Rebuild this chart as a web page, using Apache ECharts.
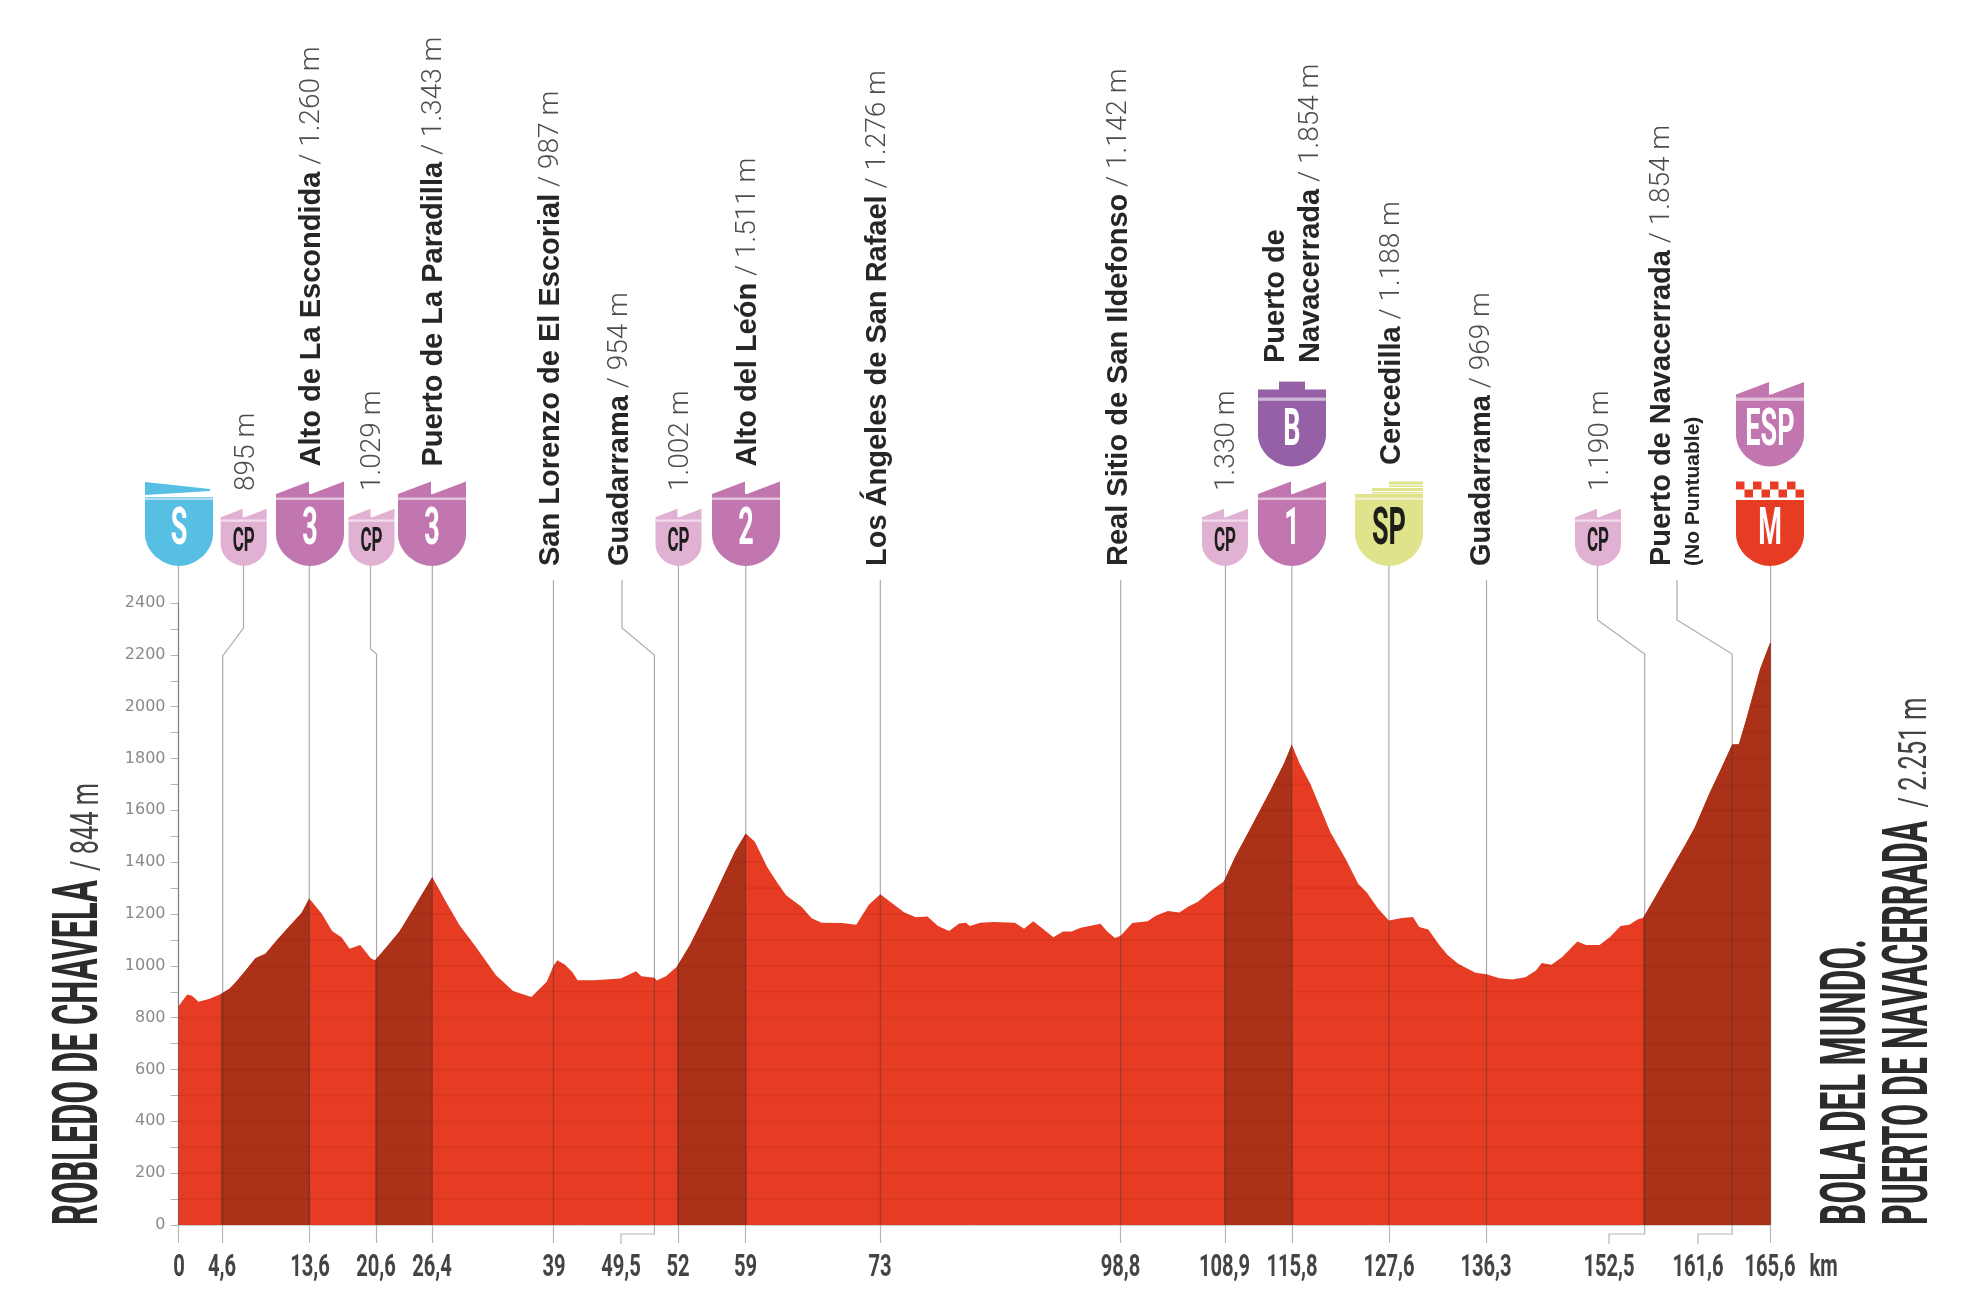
<!DOCTYPE html>
<html>
<head>
<meta charset="utf-8">
<title>Perfil de etapa</title>
<style>html,body{margin:0;background:#fff}#chart{width:1980px;height:1300px}</style>
<script src="https://cdn.jsdelivr.net/npm/echarts@6/dist/echarts.min.js"></script>
</head>
<body>
<div id="chart"></div>
<script>
// -- data -----------------------------------------------------------------
const profileKm = [0,0.9,1.4,2.1,3.25,4.4,4.6,5.3,6,7,8,9.05,10.2,11.6,12.8,13.6,13.7,14.9,16,16.95,17.8,18.9,20,20.45,20.6,21.6,23,24.6,26.4,27.8,29.25,30.9,33,34.8,36.7,38.3,39,39.4,40.2,41,41.5,43.2,46,47.6,48.15,49.5,49.75,50.7,51.85,52,53.2,55.1,56.5,57.9,59,59.1,59.95,61.2,62.3,63.2,64.8,65.85,66.9,69,70.5,71.8,73,74.6,75.5,76.7,77.9,79,80.15,81.2,81.9,82.3,83.4,84.8,87,87.95,88.9,89.9,91,92,92.9,93.85,95.9,96.6,97.4,98,99.2,100.8,101.7,102.9,104.1,105,106,107.3,108.75,109.9,111.5,113.6,115,115.8,115.95,116.6,117.75,119.8,121.4,122.7,123.6,124.8,125.9,127.25,128.4,129.05,130,131.1,132,133.1,134.9,136.05,137.4,138.75,140.1,141.2,141.8,142.8,143.9,145.5,146.4,147.8,148.9,150,150.9,151.8,152.35,152.5,153.6,155.2,156.8,157.7,159.3,160.4,161.6,162.3,163.1,164.5,165.6];
const profileElev = [844,889,885,861,873,891,895,912,939,983,1029,1047,1098,1156,1204,1260,1258,1201,1133,1110,1066,1080,1029,1022,1029,1071,1133,1231,1343,1248,1156,1075,965,903,880,939,1000,1022,1004,974,944,944,951,979,960,954,943,960,997,1002,1080,1221,1332,1442,1511,1507,1479,1383,1320,1272,1228,1184,1166,1165,1159,1236,1276,1231,1206,1187,1190,1154,1134,1163,1166,1154,1166,1169,1166,1143,1172,1143,1110,1132,1132,1147,1162,1132,1107,1116,1165,1172,1194,1212,1206,1228,1246,1287,1326,1420,1531,1678,1782,1854,1850,1782,1701,1516,1412,1317,1283,1219,1175,1185,1188,1150,1140,1082,1042,1008,973,968,952,947,956,982,1011,1004,1033,1094,1080,1080,1111,1154,1159,1180,1186,1190,1266,1369,1472,1533,1671,1757,1854,1855,1955,2144,2251];

// km ranges of the dark (classified) climbs
const climbStart = [4.4, 20.45, 51.85, 108.75, 152.35];
const climbEnd = [13.7, 26.4, 59.1, 115.95, 165.6];

// passing points, in order along the route
const passKm = [0,4.6,13.6,20.6,26.4,39,49.5,52,59,73,98,108.9,115.8,125.9,136.05,152.5,161.6,165.6];
const passNames = ['','','Alto de La Escondida','','Puerto de La Paradilla','San Lorenzo de El Escorial','Guadarrama','','Alto del León','Los Ángeles de San Rafael','Real Sitio de San Ildefonso','','Puerto de\nNavacerrada','Cercedilla','Guadarrama','','Puerto de Navacerrada',''];
const passAlts = ['','895 m','1.260 m','1.029 m','1.343 m','987 m','954 m','1.002 m','1.511 m','1.276 m','1.142 m','1.330 m','1.854 m','1.188 m','969 m','1.190 m','1.854 m',''];
const passIcons = ['S','CP','3','CP','3','','','CP','2','','','CP','1','SP','','CP','','M'];
const upperIcons = {12: 'B', 17: 'ESP'};
const tickLabels = ['0','4,6','13,6','20,6','26,4','39','49,5','52','59','73','98,8','108,9','115,8','127,6','136,3','152,5','161,6','165,6'];

// -- layout (page pixels) --------------------------------------------------
const iconX = [179,243.7,310,371.5,432,0,0,678.5,746,0,0,1225,1292,1389,0,1598,0,1770];
const labelX = [0,247,312,373,434,550.5,620,680.5,748,878,1119,1227,1311,1392,1482,1601,1662,0];
const labelBottom = [0,491,466.5,491,466.5,566,566,491,466.5,566,566,491,363,465,566,491,566,0];
const leaderTop = [566,566,566,566,566,580,580,566,566,580,580,566,566,566,580,566,580,566];
const leaderElbow = {1:[243.5,628,656], 3:[370.5,649,654], 6:[622,628,655], 15:[1597.5,620,654], 16:[1677,620,654]};
const tickLabelX = [179,222,310,376,432,554,621,678,745.5,880,1120.5,1224.5,1292,1389,1486,1609,1698,1770];
const bracketed = {6: 1, 15: 1, 16: 1};
const BASE_Y = 1225, ICON_BOTTOM = 566, UPPER_BOTTOM = 466.6, TICK_Y = 1268;

const RED = '#E63C23', DARK = '#AB3118', PINK = '#C176B0', LIGHT_PINK = '#E1B1D4';
const INK = '#2b2b2b';
const ICON_FILL = {S:'#56BFE3', CP:LIGHT_PINK, '1':PINK, '2':PINK, '3':PINK, SP:'#DFE38C', M:RED, B:'#9560A6', ESP:PINK};

const profile = profileKm.map((k, i) => [k, profileElev[i]]);

// faint 100 m rules inside the profile: the stretches where the ground is above the level
function stripeSpans() {
  const out = [];
  for (let level = 100; level < 2300; level += 100) {
    let from = null;
    for (let i = 1; i < profile.length; i++) {
      const [x0, y0] = profile[i - 1], [x1, y1] = profile[i];
      const cross = x0 + (level - y0) / (y1 - y0) * (x1 - x0);
      if (y0 >= level && from === null) from = x0;
      if (y0 < level && y1 >= level) from = cross;
      if (y0 >= level && y1 < level) { out.push([from, cross, level]); from = null; }
    }
    if (from !== null) out.push([from, 165.6, level]);
  }
  return out;
}

const measure = document.createElement('canvas').getContext('2d');
function fit(text, font, len) {
  measure.font = font;
  return len / measure.measureText(text).width;
}

function narrowText(text, x, y, size, fill, sx) {
  return { type: 'text', x: x, y: y, scaleX: sx,
    style: { text: text, x: 0, y: 0, align: 'center', verticalAlign: 'middle', fill: fill,
             fontFamily: 'Roboto', fontWeight: 700, fontSize: size } };
}

function rect(x, y, w, h, fill, opacity) {
  return { type: 'rect', shape: { x: x, y: y, width: w, height: h },
           style: { fill: fill, opacity: opacity == null ? 1 : opacity } };
}

function icon(kind, cx, bot) {
  const big = kind !== 'CP';
  const k = big ? 1 : 23 / 34;
  const hw = 34 * k, fill = ICON_FILL[kind];
  const top = bot - 66 * k, side = bot - 32 * k;
  const body = `M${cx - hw} ${top}L${cx + hw} ${top}L${cx + hw} ${side}` +
    `C${cx + hw} ${bot - 13 * k} ${cx + 15 * k} ${bot} ${cx} ${bot}` +
    `C${cx - 15 * k} ${bot} ${cx - hw} ${bot - 13 * k} ${cx - hw} ${side}Z`;
  const kids = [{ type: 'path', shape: { pathData: body }, style: { fill: fill } }];
  const stripY = bot - 69 * k;
  if (kind === 'S') {
    kids.push({ type: 'path', shape: { pathData: `M${cx - hw} ${bot - 84}L${cx + 31} ${bot - 77}L${cx + 31} ${bot - 75}L${cx - hw} ${bot - 71}Z` }, style: { fill: fill } });
  } else if (kind === 'B') {
    kids.push(rect(cx - 13, bot - 85, 26, 9, fill), rect(cx - hw, bot - 77, 2 * hw, 8, fill));
  } else if (kind === 'SP') {
    kids.push(rect(cx, bot - 84.5, hw, 3, fill), rect(cx, bot - 80.5, hw, 1.5, fill),
              rect(cx - 17, bot - 78, 17 + hw, 3, fill), rect(cx - 17, bot - 74, 17 + hw, 1.5, fill),
              rect(cx - hw, bot - 72, 2 * hw, 3, fill));
  } else if (kind === 'M') {
    const cell = 2 * hw / 8;
    for (let c = 0; c < 8; c++) {
      kids.push(rect(cx - hw + c * cell, bot - (c % 2 ? 76.5 : 84.5), cell, 8, fill));
    }
  } else {
    const t = bot - 84.5 * k, v = bot - 72 * k;
    kids.push({ type: 'path', shape: { pathData:
      `M${cx - hw} ${stripY}L${cx - hw} ${v}L${cx - 1} ${t}L${cx - 1} ${v}L${cx + 1} ${v}L${cx + hw} ${t}L${cx + hw} ${stripY}Z` },
      style: { fill: fill } });
  }
  if (kind !== 'M') {
    kids.push(rect(cx - hw, stripY, 2 * hw, 3 * k, fill));
    kids.push(rect(cx - hw, stripY + 0.5, 2 * hw, 2.5 * k, '#ffffff', 0.55));
  }
  if (big) {
    const dark = kind === 'SP';
    kids.push(narrowText(kind, cx, bot - 35, 52, dark ? '#1d1d1b' : '#ffffff', 0.52));
  } else {
    kids.push(narrowText(kind, cx, bot - 24, 34, '#1d1d1b', 0.5));
  }
  return kids;
}

function passLabel(i) {
  const lines = passNames[i] ? passNames[i].split('\n') : [''];
  return lines.map((name, n) => {
    const last = n === lines.length - 1;
    const rich = name ? '{b|' + name + '}' : '';
    const alt = last ? (name ? '{l| / ' + passAlts[i] + '}' : '{l|' + passAlts[i] + '}') : '';
    return { type: 'text', x: labelX[i] - (lines.length - 1 - n) * 35.4, y: labelBottom[i], rotation: Math.PI / 2,
      style: { text: rich + alt, x: 0, y: 0, align: 'left', verticalAlign: 'middle',
        rich: {
          b: { fontFamily: 'Liberation Sans', fontWeight: 700, fontSize: 29, fill: '#262626' },
          l: { fontFamily: 'Roboto', fontWeight: 300, fontSize: 28, fill: '#4d4d4d' },
        } } };
  });
}

const chart = echarts.init(document.getElementById('chart'), null, { renderer: 'canvas' });

function titleText(text, x, bottom, size, weight, len, fill) {
  const font = weight + ' ' + size + 'px Roboto';
  return { type: 'text', x: x, y: bottom, rotation: Math.PI / 2, scaleX: fit(text, font, len),
    style: { text: text, x: 0, y: 0, align: 'left', verticalAlign: 'middle', fill: fill,
             fontFamily: 'Roboto', fontWeight: weight, fontSize: size } };
}

chart.setOption({
  animation: false,
  backgroundColor: '#ffffff',
  grid: { left: 178.5, right: 209.4, top: 603, bottom: 75 },
  xAxis: {
    type: 'value', min: 0, max: 165.6, splitLine: { show: false },
    axisLine: { show: true, lineStyle: { color: '#d0d0d0', width: 1 } },
    axisLabel: { show: false },
    axisTick: { show: true, length: 18, lineStyle: { color: '#b5b5b5', width: 1.2 },
                customValues: passKm.filter((k, i) => !bracketed[i]) },
  },
  yAxis: {
    type: 'value', min: 0, max: 2400, interval: 200, splitLine: { show: false },
    axisLine: { show: true, lineStyle: { color: '#b5b5b5', width: 1.2 } },
    axisTick: { show: true, length: 8, lineStyle: { color: '#b5b5b5' } },
    minorTick: { show: true, splitNumber: 2, length: 8, lineStyle: { color: '#b5b5b5' } },
    axisLabel: { fontFamily: 'DejaVu Sans', fontSize: 16, color: '#8a8a8a', margin: 13, formatter: (v) => String(v) },
  },
  graphic: [
    titleText('ROBLEDO DE CHAVELA', 81, 1225, 63, 700, 345, INK),
    titleText('/ 844 m', 88, 871, 38, 400, 88, '#444'),
    titleText('BOLA DEL MUNDO.', 1849, 1225, 63, 700, 286, INK),
    titleText('PUERTO DE NAVACERRADA', 1911, 1225, 63, 700, 404, INK),
    titleText('/ 2.251 m', 1916, 807.6, 38, 400, 110, '#444'),
  ],
  series: [
    { type: 'line', data: profile, symbol: 'none', z: 2, silent: true,
      lineStyle: { width: 0 }, areaStyle: { color: RED, opacity: 1, origin: 'start' } },
    ...climbStart.map((s, c) => ({
      type: 'line', symbol: 'none', z: 3, silent: true,
      data: profile.filter((p) => p[0] >= s && p[0] <= climbEnd[c]),
      lineStyle: { width: 0 }, areaStyle: { color: DARK, opacity: 1, origin: 'start' },
    })),
    { type: 'custom', z: 4, silent: true, clip: false, data: stripeSpans(), encode: { x: [0, 1], y: 2 },
      renderItem: (params, api) => {
        const a = api.coord([api.value(0), api.value(2)]), b = api.coord([api.value(1), api.value(2)]);
        return { type: 'line', shape: { x1: a[0], y1: a[1], x2: b[0], y2: b[1] },
                 style: { stroke: 'rgba(110,20,5,0.1)', lineWidth: 1.6 } };
      } },
    { type: 'custom', z: 5, silent: true, clip: false, data: passKm.map((k) => [k, 0]), encode: { x: 0, y: 1 },
      renderItem: (params, api) => {
        const i = params.dataIndex;
        const foot = api.coord([api.value(0), 0]);
        const e = leaderElbow[i];
        const pts = e ? [[e[0], leaderTop[i]], [e[0], e[1]], [foot[0], e[2]], foot]
                      : [[foot[0], leaderTop[i]], foot];
        const kids = [{ type: 'polyline', shape: { points: pts },
          style: { stroke: 'rgba(55,55,55,0.42)', fill: 'none', lineWidth: 1.2 } }];
        if (bracketed[i]) {
          const x = tickLabelX[i];
          kids.push({ type: 'polyline', shape: { points: [foot, [foot[0], BASE_Y + 9], [x, BASE_Y + 9], [x, BASE_Y + 19]] },
            style: { stroke: '#b5b5b5', fill: 'none', lineWidth: 1.2 } });
        }
        return { type: 'group', children: kids };
      } },
    { type: 'custom', z: 6, silent: true, clip: false, data: passKm.map((k) => [k, 0]), encode: { x: 0, y: 1 },
      renderItem: (params) => {
        const i = params.dataIndex;
        let kids = [];
        if (passIcons[i]) kids = kids.concat(icon(passIcons[i], iconX[i], ICON_BOTTOM));
        if (upperIcons[i]) kids = kids.concat(icon(upperIcons[i], iconX[i], UPPER_BOTTOM));
        if (passAlts[i]) kids = kids.concat(passLabel(i));
        if (i === 16) {
          kids.push({ type: 'text', x: 1693.5, y: 566, rotation: Math.PI / 2,
            style: { text: '(No Puntuable)', x: 0, y: 0, align: 'left', verticalAlign: 'middle', fill: '#262626',
                     fontFamily: 'Liberation Sans', fontWeight: 700, fontSize: 21 } });
        }
        kids.push(narrowText(tickLabels[i], tickLabelX[i], TICK_Y, 32, '#444444', 0.63));
        if (i === 17) kids.push(narrowText('km', 1823.5, TICK_Y, 32, '#444444', 0.63));
        return { type: 'group', children: kids };
      } },
  ],
});
</script>
</body>
</html>
